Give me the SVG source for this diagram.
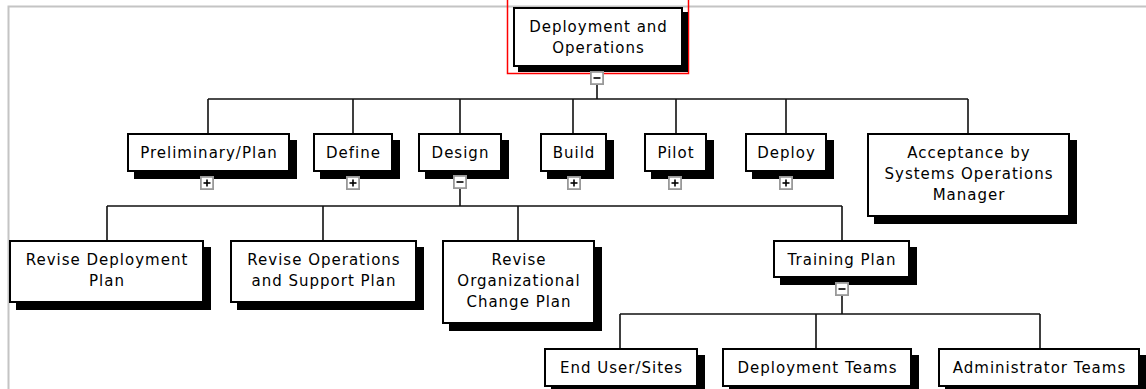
<svg xmlns="http://www.w3.org/2000/svg" xmlns:xlink="http://www.w3.org/1999/xlink" width="1146" height="389" viewBox="0 0 1146 389">
<style>
.frame{stroke:#c4c4c4;stroke-width:2;fill:none}
.box{fill:#fff;stroke:#000;stroke-width:2}
.sh{fill:#000}
.t{font-family:"DejaVu Sans","Verdana",sans-serif;font-size:15px;letter-spacing:1px;text-anchor:middle;fill:#000}
.c{stroke:#111;stroke-width:1.6;fill:none}
.ico{fill:#fff;stroke:#999;stroke-width:1.8}
.sign{stroke:#000;stroke-width:1.6}
</style>
<defs>
<g id="minus"><rect class="ico" x="0.9" y="0.9" width="12.2" height="12.2"/><line class="sign" x1="3.5" y1="7" x2="10.5" y2="7"/></g>
<g id="plus"><rect class="ico" x="0.9" y="0.9" width="12.2" height="12.2"/><line class="sign" x1="3.5" y1="7" x2="10.5" y2="7"/><line class="sign" x1="7" y1="3.5" x2="7" y2="10.5"/></g>
</defs>
<rect width="1146" height="389" fill="#fff"/>
<path class="frame" d="M8.5 389 V6.5 H1146"/>
<g id="connectors">
<path class="c" d="M597 85 V99 M208 99 H968 M208 99 V133 M353 99 V133 M460 99 V133 M573 99 V133 M676 99 V133 M786 99 V133 M968 99 V133"/>
<path class="c" d="M460 189 V206 M107 206 H842 M107 206 V240 M323 206 V240 M518 206 V240 M842 206 V240"/>
<path class="c" d="M842 296 V314 M620 314 H1040 M620 314 V348 M816 314 V348 M1040 314 V348"/>
</g>
<g id="n-root">
<rect x="507.5" y="-2" width="181" height="75.5" fill="none" stroke="#f00" stroke-width="1.5"/>
<rect class="sh" x="518" y="12" width="170" height="60"/>
<rect class="box" x="514" y="8" width="168" height="58"/>
<text class="t" x="598.5" y="32">Deployment and</text>
<text class="t" x="598.5" y="53">Operations</text>
<use xlink:href="#minus" x="590" y="71"/>
</g>
<g id="n-prelim">
<rect class="sh" x="134" y="140" width="163" height="39"/>
<rect class="box" x="128" y="134" width="161" height="37"/>
<text class="t" x="209" y="158">Preliminary/Plan</text>
<use xlink:href="#plus" x="200" y="176"/>
</g>
<g id="n-define">
<rect class="sh" x="320" y="140" width="80" height="39"/>
<rect class="box" x="314" y="134" width="78" height="37"/>
<text class="t" x="353.5" y="158">Define</text>
<use xlink:href="#plus" x="346" y="176"/>
</g>
<g id="n-design">
<rect class="sh" x="425" y="140" width="84" height="39"/>
<rect class="box" x="419" y="134" width="82" height="37"/>
<text class="t" x="460.5" y="158">Design</text>
<use xlink:href="#minus" x="453" y="175"/>
</g>
<g id="n-build">
<rect class="sh" x="547" y="140" width="67" height="39"/>
<rect class="box" x="541" y="134" width="65" height="37"/>
<text class="t" x="574" y="158">Build</text>
<use xlink:href="#plus" x="567" y="176"/>
</g>
<g id="n-pilot">
<rect class="sh" x="651" y="140" width="63" height="39"/>
<rect class="box" x="645" y="134" width="61" height="37"/>
<text class="t" x="676" y="158">Pilot</text>
<use xlink:href="#plus" x="668" y="176"/>
</g>
<g id="n-deploy">
<rect class="sh" x="752" y="140" width="82" height="39"/>
<rect class="box" x="746" y="134" width="80" height="37"/>
<text class="t" x="786.5" y="158">Deploy</text>
<use xlink:href="#plus" x="779" y="176"/>
</g>
<g id="n-accept">
<rect class="sh" x="874" y="140" width="203" height="84"/>
<rect class="box" x="868" y="134" width="201" height="82"/>
<text class="t" x="969" y="158">Acceptance by</text>
<text class="t" x="969" y="179">Systems Operations</text>
<text class="t" x="969" y="200">Manager</text>
</g>
<g id="n-revdep">
<rect class="sh" x="16" y="247" width="195" height="63"/>
<rect class="box" x="10" y="241" width="193" height="61"/>
<text class="t" x="107" y="265">Revise Deployment</text>
<text class="t" x="107" y="286">Plan</text>
</g>
<g id="n-revops">
<rect class="sh" x="237" y="247" width="187" height="63"/>
<rect class="box" x="231" y="241" width="185" height="61"/>
<text class="t" x="324" y="265">Revise Operations</text>
<text class="t" x="324" y="286">and Support Plan</text>
</g>
<g id="n-revorg">
<rect class="sh" x="449" y="247" width="153" height="84"/>
<rect class="box" x="443" y="241" width="151" height="82"/>
<text class="t" x="519" y="265">Revise</text>
<text class="t" x="519" y="286">Organizational</text>
<text class="t" x="519" y="307">Change Plan</text>
</g>
<g id="n-training">
<rect class="sh" x="780" y="247" width="137" height="38"/>
<rect class="box" x="774" y="241" width="135" height="36"/>
<text class="t" x="842" y="265">Training Plan</text>
<use xlink:href="#minus" x="835" y="282"/>
</g>
<g id="n-enduser">
<rect class="sh" x="551" y="355" width="154" height="39"/>
<rect class="box" x="545" y="349" width="152" height="37"/>
<text class="t" x="621.5" y="373">End User/Sites</text>
</g>
<g id="n-depteams">
<rect class="sh" x="729" y="355" width="190" height="39"/>
<rect class="box" x="723" y="349" width="188" height="37"/>
<text class="t" x="817.5" y="373">Deployment Teams</text>
</g>
<g id="n-admin">
<rect class="sh" x="945" y="355" width="202" height="39"/>
<rect class="box" x="939" y="349" width="200" height="37"/>
<text class="t" x="1039.5" y="373">Administrator Teams</text>
</g>
</svg>
